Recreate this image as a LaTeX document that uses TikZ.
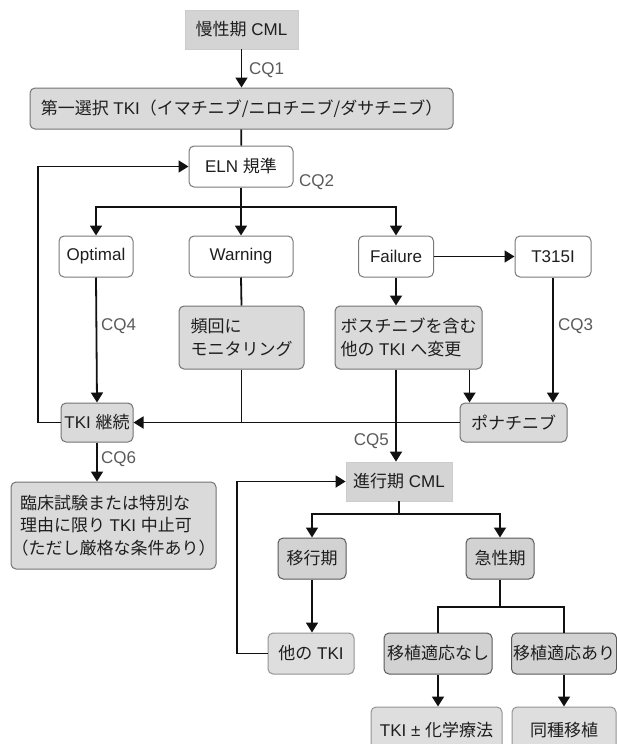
\documentclass[tikz,border=0pt]{standalone}
\usepackage{fontspec}
\setmainfont{Liberation Sans}
\newfontfamily\jp{Noto Sans CJK JP}
\usetikzlibrary{arrows.meta,calc}
\definecolor{lnc}{HTML}{111111}
\definecolor{txc}{HTML}{1E1E1E}
\definecolor{lbc}{HTML}{5A5A5A}
\definecolor{gfill}{HTML}{DADADA}
\definecolor{dfill}{HTML}{D2D2D2}
\definecolor{sfill}{HTML}{D4D4D4}
\tikzset{
  base/.style={inner sep=0pt, text=txc, align=left},
  sbox/.style={base, fill=sfill, draw=gray!40, line width=0.8pt},
  wbox/.style={base, fill=white, draw=gray!95!black, line width=1pt, rounded corners=5pt},
  gbox/.style={base, fill=gfill, draw=gray!90!black, line width=1pt, rounded corners=5pt},
  dbox/.style={base, fill=dfill, draw=black!65, line width=1pt, rounded corners=5pt},
  lbox/.style={base, fill=gfill!90!white, draw=gray!85, line width=1pt, rounded corners=5pt},
  lbl/.style={inner sep=0pt, text=lbc},
  conn/.style={draw=lnc, line width=1.8pt},
  arr/.style={conn, -{Triangle[length=10pt,width=12pt]}},
}
\begin{document}
\begin{tikzpicture}[x=1pt,y=-1pt,font=\fontsize{17}{22.5}\selectfont]
\useasboundingbox (0,0) rectangle (617,744);
\clip (0,0) rectangle (617,744);
% nodes
\node[sbox, minimum width=113, minimum height=39] (cml1) at (241.5,29.5) {{\jp 慢性期} CML};
\node[gbox, minimum width=423, minimum height=41] (first) at (241.5,108.5) {{\jp 第一選択} TKI{\jp （イマチニブ/ニロチニブ/ダサチニブ）}};
\node[wbox, minimum width=104, minimum height=41] (eln) at (241,166.5) {ELN {\jp 規準}};
\node[wbox, minimum width=74, minimum height=41] (opt) at (96,256.5) {Optimal};
\node[wbox, minimum width=104, minimum height=41] (warn) at (241,256.5) {Warning};
\node[wbox, minimum width=75, minimum height=41] (fail) at (396,256.5) {Failure};
\node[wbox, minimum width=76, minimum height=41] (t315) at (553,256.5) {T315I};
\node[gbox, minimum width=125, minimum height=63] (freq) at (241.5,337.5) {{\jp 頻回に}\\{\jp モニタリング}};
\node[gbox, minimum width=147, minimum height=63] (bos) at (408.5,337.5) {{\jp ボスチニブを含む}\\{\jp 他の} TKI {\jp へ変更}};
\node[gbox, minimum width=107, minimum height=39] (pona) at (513.5,422.5) {{\jp ポナチニブ}};
\node[gbox, minimum width=72, minimum height=39] (cont) at (97,422.5) {TKI {\jp 継続}};
\node[gbox, minimum width=205, minimum height=87] (stop) at (113.5,525.5) {{\jp 臨床試験または特別な}\\{\jp 理由に限り} TKI {\jp 中止可}\\{\jp \kern-0.5em（ただし厳格な条件あり）\kern-0.5em}};
\node[sbox, minimum width=106, minimum height=39] (cml2) at (399,481.5) {{\jp 進行期} CML};
\node[dbox, minimum width=68, minimum height=41] (trans) at (312,558.5) {{\jp 移行期}};
\node[dbox, minimum width=68, minimum height=41] (blast) at (500,558.5) {{\jp 急性期}};
\node[lbox, minimum width=86, minimum height=41] (other) at (311,653.5) {{\jp 他の} TKI};
\node[dbox, minimum width=108, minimum height=41] (notx) at (438,653.5) {{\jp 移植適応なし}};
\node[dbox, minimum width=105, minimum height=41] (tx) at (564,653.5) {{\jp 移植適応あり}};
\node[lbox, minimum width=131, minimum height=46] (chemo) at (436.5,730) {TKI ± {\jp 化学療法}};
\node[lbox, minimum width=104, minimum height=46] (allo) at (564,730) {{\jp 同種移植}};
% labels
\node[lbl, anchor=west] (cq1) at (249,70) {CQ1};
\node[lbl, anchor=west] (cq2) at (299,182) {CQ2};
\node[lbl, anchor=west] (cq4) at (101,326) {CQ4};
\node[lbl, anchor=west] (cq3) at (558,326) {CQ3};
\node[lbl, anchor=east] (cq5) at (389,441) {CQ5};
\node[lbl, anchor=west] (cq6) at (101,459) {CQ6};
% helper coordinates
\coordinate (br1) at (241,207);
\coordinate (loopL) at (38,422.5);
\coordinate (pa) at ($(pona.north west)+(10,0)$);
\coordinate (br2) at (399,514);
\coordinate (loopM) at (237,653.5);
\coordinate (br3) at (500,607);
% connectors
\draw[arr] (cml1) -- (first);
\draw[conn] (first) -- (eln);
\draw[conn] (eln.south) -- (br1);
\draw[arr] (br1) -| (opt.north);
\draw[arr] (br1) -- (warn.north);
\draw[arr] (br1) -| (fail.north);
\draw[arr] (fail.east) -- (t315.west);
\draw[arr] (opt.south) -- (cont.north);
\draw[conn] (warn.south) -- (freq.north);
\draw[conn] (freq.south) -- (freq.south |- cont.east);
\draw[arr] (fail.south) -- (bos.north -| fail.south);
\draw[arr] (bos.south -| pa) -- (pa);
\draw[arr] (t315.south) -- (pona.north -| t315.south);
\draw[arr] (pona.west) -- (cont.east);
\draw[arr] (cont.west) -- (loopL) |- (eln.west);
\draw[arr] (cont.south) -- (stop.north -| cont.south);
\draw[arr] (bos.south -| fail.south) -- (cml2.north -| fail.south);
\draw[conn] (cml2.south) -- (br2);
\draw[arr] (br2) -| (trans.north);
\draw[arr] (br2) -| (blast.north);
\draw[arr] (trans.south) -- (other.north -| trans.south);
\draw[arr] (other.west) -- (loopM) |- (cml2.west);
\draw[conn] (blast.south) -- (br3);
\draw[conn] (br3) -| (notx.north);
\draw[conn] (br3) -| (tx.north);
\draw[arr] (notx.south) -- (chemo.north -| notx.south);
\draw[arr] (tx.south) -- (allo.north);
\end{tikzpicture}
\end{document}
